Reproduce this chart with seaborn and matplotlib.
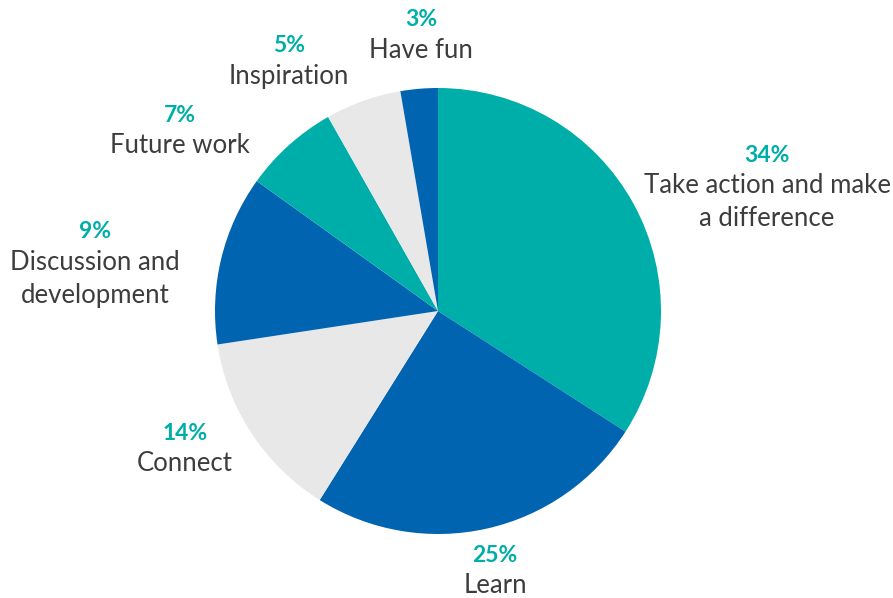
import numpy as np
import seaborn as sns
import matplotlib.pyplot as plt

# slice sizes (labels use the published rounded numbers)
categories = ["Take action and make\na difference", "Learn", "Connect",
              "Discussion and\ndevelopment", "Future work", "Inspiration", "Have fun"]
shares = [34.1, 24.8, 13.7, 12.3, 6.9, 5.5, 2.7]
pct_labels = ["34%", "25%", "14%", "9%", "7%", "5%", "3%"]

TEAL = "#00aea9"
BLUE = "#0064b0"
GREY = "#e8e8e8"
slice_colors = [TEAL, BLUE, GREY, BLUE, TEAL, GREY, BLUE]

# label anchor positions in pixels (x, y of the percentage line, from top)
label_pos = [(767, 155), (495, 555), (185, 433), (95, 232), (180, 115), (289, 46), (421, 20)]

sns.set_theme(style="white")
plt.rcParams["font.family"] = ["Lato", "DejaVu Sans"]

W, H = 893, 598
fig = plt.figure(figsize=(W / 100, H / 100), dpi=100)
ax = fig.add_axes([0, 0, 1, 1])

cx, cy, r = 438, H - 311, 223
ax.pie(shares, colors=slice_colors, startangle=90, counterclock=False,
       radius=r, center=(cx, cy), frame=True,
       wedgeprops=dict(linewidth=0))
ax.set_xlim(0, W)
ax.set_ylim(0, H)
ax.set_aspect("equal")
ax.axis("off")

for name, pct, (x, y) in zip(categories, pct_labels, label_pos):
    ax.text(x, H - y, pct, ha="center", va="center", fontsize=16.5,
            fontweight="bold", color=TEAL)
    ax.text(x, H - y - 18, name, ha="center", va="top", fontsize=18.5,
            color="#3d3d3d", linespacing=1.4)

fig.savefig("out.png", dpi=100)
